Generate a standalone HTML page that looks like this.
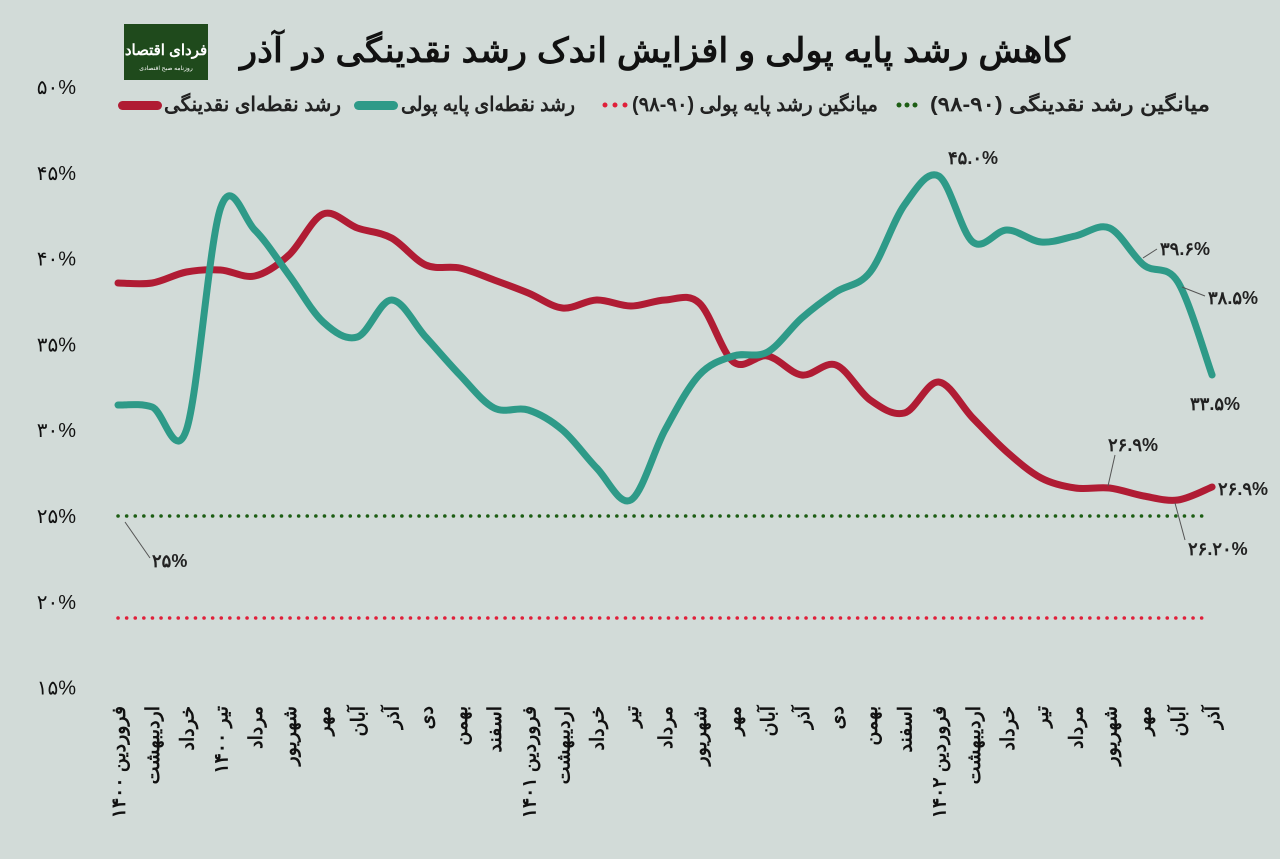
<!DOCTYPE html>
<html><head><meta charset="utf-8">
<style>
html,body{margin:0;padding:0;background:#d2dbd8;}
body{width:1280px;height:859px;overflow:hidden;position:relative;font-family:"Liberation Sans","Noto Sans CJK SC",sans-serif;}
svg{position:absolute;left:0;top:0}
text{font-family:"Liberation Sans","Noto Sans CJK SC",sans-serif;}
</style></head><body>
<svg id="s" width="1280" height="859" xmlns="http://www.w3.org/2000/svg">
<rect width="1280" height="859" fill="#d2dbd8"/>
<rect x="124" y="24" width="84" height="56" fill="#1f4a1c"/>
<text x="166" y="55" fill="#fff" font-size="15" font-weight="bold" text-anchor="middle" direction="rtl">فردای اقتصاد</text>
<text x="166" y="70" fill="#fff" font-size="6" text-anchor="middle" direction="rtl">روزنامه صبح اقتصادی</text>
<text x="1070" y="62" font-size="34" font-weight="bold" fill="#111" text-anchor="start" direction="rtl" textLength="830" lengthAdjust="spacingAndGlyphs">کاهش رشد پایه پولی و افزایش اندک رشد نقدینگی در آذر</text>
<g font-size="20" font-weight="bold" fill="#222">
<text x="1210" y="111" text-anchor="start" direction="rtl" textLength="280" lengthAdjust="spacingAndGlyphs">میانگین رشد نقدینگی (۹۰-۹۸)</text>
<circle cx="915" cy="105" r="2.5" fill="#1d5e14"/><circle cx="907" cy="105" r="2.5" fill="#1d5e14"/><circle cx="899" cy="105" r="2.5" fill="#1d5e14"/>
<text x="878" y="111" text-anchor="start" direction="rtl" textLength="246" lengthAdjust="spacingAndGlyphs">میانگین رشد پایه پولی (۹۰-۹۸)</text>
<circle cx="625" cy="105" r="2.5" fill="#e0203a"/><circle cx="615" cy="105" r="2.5" fill="#e0203a"/><circle cx="605" cy="105" r="2.5" fill="#e0203a"/>
<text x="575" y="111" text-anchor="start" direction="rtl" textLength="174" lengthAdjust="spacingAndGlyphs">رشد نقطه‌ای پایه پولی</text>
<rect x="354" y="101" width="44" height="9" rx="4.5" fill="#2e9a88"/>
<text x="341" y="111" text-anchor="start" direction="rtl" textLength="177" lengthAdjust="spacingAndGlyphs">رشد نقطه‌ای نقدینگی</text>
<rect x="118" y="101" width="44" height="9" rx="4.5" fill="#b01c34"/>
</g>
<g id="yt" font-size="20" fill="#111" text-anchor="end"></g>
<line x1="118" y1="516" x2="1206" y2="516" stroke="#1d5e14" stroke-width="3.5" stroke-dasharray="0.1 8.5" stroke-linecap="round"/>
<line x1="118" y1="618" x2="1206" y2="618" stroke="#e0203a" stroke-width="3.5" stroke-dasharray="0.1 8.5" stroke-linecap="round"/>
<path id="red" fill="none" stroke="#b01c34" stroke-width="7" stroke-linecap="round" stroke-linejoin="round"/>
<path id="teal" fill="none" stroke="#2e9a88" stroke-width="7" stroke-linecap="round" stroke-linejoin="round"/>
<g font-size="18" font-weight="bold" fill="#222">
<text x="948" y="164">۴۵.۰%</text>
<text x="1160" y="255">۳۹.۶%</text>
<line x1="1157" y1="249" x2="1143" y2="258" stroke="#555" stroke-width="1"/>
<text x="1208" y="304">۳۸.۵%</text>
<line x1="1205" y1="296" x2="1182" y2="287" stroke="#555" stroke-width="1"/>
<text x="1190" y="410">۳۳.۵%</text>
<text x="1108" y="451">۲۶.۹%</text>
<line x1="1115" y1="455" x2="1108" y2="486" stroke="#555" stroke-width="1"/>
<text x="1218" y="495">۲۶.۹%</text>
<text x="1188" y="555">۲۶.۲۰%</text>
<line x1="1185" y1="540" x2="1175" y2="503" stroke="#555" stroke-width="1"/>
<text x="152" y="567">۲۵%</text>
<line x1="150" y1="558" x2="125" y2="522" stroke="#555" stroke-width="1"/>
</g>
<g id="xl" font-size="19" font-weight="bold" fill="#111"></g>
</svg>
<script>
var fa=function(s){return String(s).replace(/\d/g,function(d){return '۰۱۲۳۴۵۶۷۸۹'[d];});};
var yt=document.getElementById('yt'),ns='http://www.w3.org/2000/svg';
for(var v=15;v<=50;v+=5){var t=document.createElementNS(ns,'text');t.setAttribute('x','76');t.setAttribute('y',516-(v-25)*17.16+7);t.textContent=fa(v)+'%';yt.appendChild(t);}
var L=['فروردین ۱۴۰۰','اردیبهشت','خرداد','تیر ۱۴۰۰','مرداد','شهریور','مهر','آبان','آذر','دی','بهمن','اسفند','فروردین ۱۴۰۱','اردیبهشت','خرداد','تیر','مرداد','شهریور','مهر','آبان','آذر','دی','بهمن','اسفند','فروردین ۱۴۰۲','اردیبهشت','خرداد','تیر','مرداد','شهریور','مهر','آبان','آذر'];
var X=function(i){return 118+i*34.19;};
var xl=document.getElementById('xl');
L.forEach(function(s,i){var t=document.createElementNS(ns,'text');var x=X(i)+7,y=706;t.setAttribute('x',x);t.setAttribute('y',y);t.setAttribute('text-anchor','end');t.setAttribute('transform','rotate(-90 '+x+' '+y+')');t.textContent=s;xl.appendChild(t);});
var R=[283,283,272,270,276,255,214,228,238,265,268,280,293,308,300,306,300,303,362,356,375,365,400,413,382,418,452,478,488,488,496,500,487];
var T=[405,407,430,208,230,275,322,337,300,337,375,408,410,430,468,500,430,375,356,352,318,292,272,205,176,242,230,242,236,228,265,282,375];
function path(a){var p=a.map(function(y,i){return [X(i),y];});var d='M'+p[0][0]+' '+p[0][1];
for(var i=0;i<p.length-1;i++){var p0=p[i-1]||p[i],p1=p[i],p2=p[i+1],p3=p[i+2]||p2;var k=6;
d+=' C'+(p1[0]+(p2[0]-p0[0])/k)+' '+(p1[1]+(p2[1]-p0[1])/k)+' '+(p2[0]-(p3[0]-p1[0])/k)+' '+(p2[1]-(p3[1]-p1[1])/k)+' '+p2[0]+' '+p2[1];}return d;}
document.getElementById('red').setAttribute('d',path(R));
document.getElementById('teal').setAttribute('d',path(T));
</script>
</body></html>
